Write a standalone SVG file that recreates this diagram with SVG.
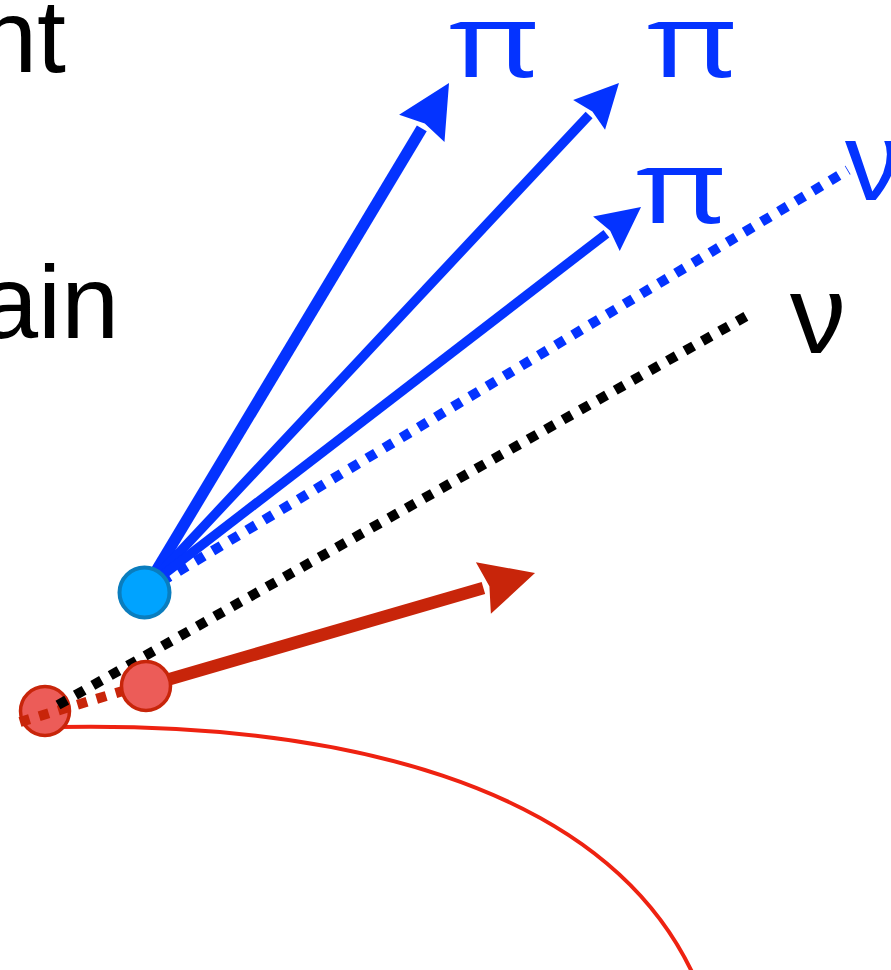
<svg xmlns="http://www.w3.org/2000/svg" width="891" height="970" viewBox="0 0 891 970">
<style>
.lbl{font-family:"Liberation Sans",Arial,sans-serif;font-size:104px;fill:#000}
.pi{font-family:"Open Sans","Noto Sans",sans-serif;font-size:103px;text-anchor:middle;fill:#0433ff}
.nu{font-family:"Liberation Sans",Arial,sans-serif;font-size:112px}
.blue{fill:#0433ff}
.blk{fill:#000}
.arrowB{stroke:#0433ff;fill:none;stroke-linecap:butt;marker-end:url(#hB)}
.arrowR{stroke:#c8250a;fill:none;stroke-width:12.5;marker-end:url(#hR)}
.dot{fill:none;stroke-width:10;stroke-dasharray:10 10}
</style>
<defs>
<marker id="hB" markerUnits="strokeWidth" refX="0" refY="0" markerWidth="10" markerHeight="10" orient="auto" overflow="visible">
<path d="M4.6,0 L0,-2.3 L0.5,0 L0,2.3 Z" fill="#0433ff"/>
</marker>
<marker id="hR" markerUnits="strokeWidth" refX="0" refY="0" markerWidth="10" markerHeight="10" orient="auto" overflow="visible">
<path d="M4.3,0 L0,-2.15 L0.5,0 L0,2.15 Z" fill="#c8250a"/>
</marker>
</defs>
<rect width="891" height="970" fill="#fff"/>
<g id="texts">
<text class="lbl" x="66" y="72" text-anchor="end">nt</text>
<text class="lbl" x="119" y="338" text-anchor="end">ain</text>
</g>
<g id="connectors">
<path id="track" d="M58,727 C330,722 600,780 692,972" fill="none" stroke="#ee2211" stroke-width="4"/>
<line class="dot" x1="144" y1="592" x2="848" y2="170" stroke="#0433ff"/>
<line class="arrowB" x1="146" y1="588" x2="421.8" y2="128.4" stroke-width="11.5"/>
<line class="arrowB" x1="146" y1="588" x2="589.1" y2="114.9" stroke-width="9.5"/>
<line class="arrowB" x1="146" y1="588" x2="606.4" y2="233.7" stroke-width="9.5"/>
<line class="arrowR" x1="146" y1="686" x2="483.4" y2="588"/>
</g>
<g id="pion-vertex">
<circle cx="144.5" cy="592.5" r="25" fill="#00a3ff" stroke="#0a7dbe" stroke-width="4"/>
</g>
<g id="vertex-1">
<circle cx="45" cy="711" r="24.5" fill="#ec5c58" stroke="#c8250a" stroke-width="3.5"/>
</g>
<g id="connectors-2">
<line class="dot" x1="20" y1="722" x2="146" y2="684" stroke="#c8250a"/>
<line class="dot" x1="58" y1="705" x2="752" y2="313" stroke="#000"/>
</g>
<g id="vertex-2">
<circle cx="146" cy="686" r="24.5" fill="#ec5c58" stroke="#c8250a" stroke-width="3.5"/>
</g>
<g id="labels">
<text class="pi" transform="translate(494,77) scale(1.35,1)">π</text>
<text class="pi" transform="translate(692,77) scale(1.35,1)">π</text>
<text class="pi" transform="translate(681,223) scale(1.35,1)">π</text>
<text class="nu blue" x="845" y="200">ν</text>
<text class="nu blk" x="818" y="353" text-anchor="middle">ν</text>
</g>
</svg>
